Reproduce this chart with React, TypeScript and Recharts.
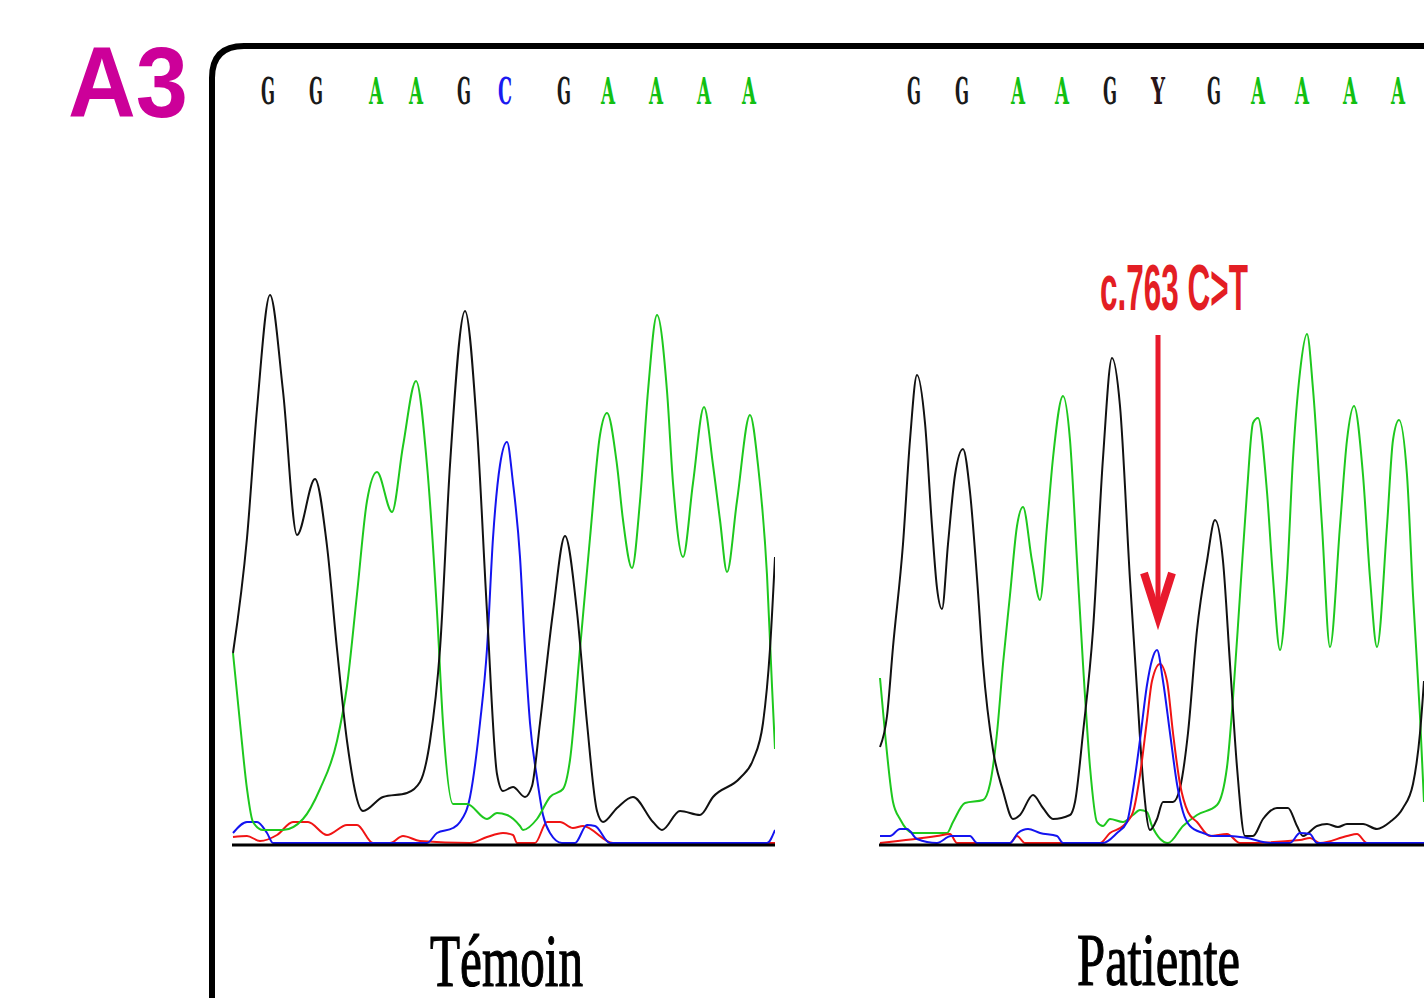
import React from 'react';
import { LineChart, Line, XAxis, YAxis, ReferenceLine, ReferenceDot } from 'recharts';

// ---------- sequence calls (scan position of each base call) ----------
const controlBases = ['G', 'G', 'A', 'A', 'G', 'C', 'G', 'A', 'A', 'A', 'A'];
const controlBaseScans = [36, 84, 144, 184, 232, 273, 332, 376, 424, 472, 517];
const patientBases = ['G', 'G', 'A', 'A', 'G', 'Y', 'G', 'A', 'A', 'A', 'A'];
const patientBaseScans = [35, 83, 139, 183, 231, 279, 335, 379, 423, 471, 519];
const baseCallLevel = 741;

// ---------- control (Témoin) traces: [scan, intensity] ----------
const controlG = [
  [1, 192], [15, 307], [25, 436], [38, 550], [51, 454], [65, 310], [83, 366], [95, 299], [105, 196],
  [115, 104], [131, 34], [151, 48], [175, 52], [188, 63], [198, 104], [208, 196], [218, 380], [233, 534],
  [245, 417], [255, 233], [265, 71], [271, 54], [281, 58], [293, 48], [300, 59], [308, 122], [321, 233],
  [333, 309], [345, 233], [355, 122], [365, 34], [371, 23], [385, 37], [401, 48], [421, 23], [430, 15],
  [448, 34], [468, 30], [481, 48], [508, 67], [521, 85], [531, 122], [538, 196], [543, 288],
];
const controlA = [
  [1, 192], [8, 122], [15, 56], [21, 23], [31, 15], [51, 15], [71, 26], [88, 56], [105, 104], [115, 159],
  [125, 251], [135, 344], [145, 373], [160, 333], [171, 399], [184, 464], [195, 380], [205, 233], [211, 122],
  [221, 41], [235, 41], [255, 26], [265, 32], [275, 30], [288, 19], [291, 15], [305, 26], [318, 48],
  [331, 56], [338, 85], [348, 196], [358, 307], [368, 410], [375, 432], [385, 380], [391, 325], [400, 277],
  [408, 344], [416, 454], [425, 530], [435, 454], [441, 362], [451, 288], [461, 362], [472, 438], [481, 380],
  [488, 325], [495, 273], [505, 344], [518, 430], [526, 380], [535, 270], [540, 159], [543, 96],
];
const controlC = [
  [1, 12], [15, 23], [25, 23], [35, 12], [41, 2], [195, 2], [205, 12], [221, 17], [228, 23], [238, 48],
  [248, 122], [255, 196], [261, 307], [268, 380], [275, 403], [281, 362], [288, 288], [293, 196], [298, 122],
  [305, 67], [311, 30], [318, 12], [330, 2], [343, 2], [355, 20], [363, 19], [378, 2], [535, 2], [543, 15],
];
const controlT = [
  [1, 8], [15, 9], [28, 4], [45, 10], [61, 23], [76, 23], [95, 10], [115, 20], [125, 20], [141, 2],
  [158, 2], [171, 9], [188, 4], [238, 2], [255, 8], [271, 12], [281, 10], [285, 2], [303, 2], [315, 23],
  [328, 23], [341, 17], [351, 19], [381, 2], [543, 2],
];

// ---------- patient (Patiente) traces: [scan, intensity] ----------
const patientG = [
  [1, 98], [8, 129], [14, 198], [24, 301], [31, 405], [38, 470], [46, 422], [53, 319], [58, 257], [63, 236],
  [69, 301], [76, 370], [84, 396], [91, 353], [98, 267], [104, 181], [114, 95], [124, 54], [134, 26],
  [141, 30], [154, 50], [164, 37], [174, 26], [191, 30], [196, 43], [204, 112], [214, 215], [224, 387],
  [233, 487], [241, 439], [251, 265], [258, 155], [264, 65], [271, 15], [278, 26], [284, 43], [294, 43],
  [301, 57], [309, 112], [318, 215], [328, 284], [336, 325], [344, 284], [351, 181], [358, 78], [366, 9],
  [374, 9], [384, 26], [398, 37], [409, 37], [418, 19], [424, 9], [438, 19], [448, 21], [459, 18], [468, 21],
  [484, 21], [498, 16], [511, 23], [524, 37], [534, 61], [541, 112], [545, 164],
];
const patientA = [
  [1, 167], [6, 112], [14, 43], [21, 26], [34, 12], [68, 12], [74, 23], [86, 42], [104, 45], [111, 61],
  [118, 112], [124, 181], [131, 250], [138, 319], [144, 338], [153, 284], [161, 245], [168, 319], [174, 387],
  [184, 449], [191, 405], [198, 284], [204, 181], [211, 78], [218, 23], [224, 19], [231, 26], [244, 23],
  [254, 30], [261, 35], [268, 33], [273, 19], [289, 2], [304, 19], [318, 30], [338, 40], [348, 78],
  [354, 147], [361, 250], [368, 353], [374, 422], [379, 427], [388, 353], [394, 267], [401, 195], [408, 267],
  [414, 387], [421, 473], [428, 511], [434, 456], [443, 319], [451, 198], [461, 319], [468, 405], [475, 439],
  [484, 370], [491, 267], [498, 198], [508, 319], [514, 405], [520, 425], [528, 370], [534, 250], [541, 129],
  [545, 43],
];
const patientC = [
  [1, 9], [11, 9], [21, 16], [28, 16], [38, 6], [58, 2], [72, 9], [91, 9], [98, 2], [131, 2], [139, 12],
  [149, 16], [161, 12], [178, 9], [184, 2], [224, 2], [238, 12], [248, 23], [254, 55], [261, 105], [268, 160],
  [273, 185], [278, 195], [284, 164], [291, 112], [298, 61], [304, 33], [311, 19], [324, 12], [334, 9],
  [351, 9], [368, 7], [391, 2], [411, 2], [421, 12], [431, 11], [438, 2], [545, 2],
];
const patientT = [
  [1, 2], [58, 9], [71, 11], [78, 2], [131, 2], [138, 9], [146, 2], [221, 2], [231, 12], [244, 19],
  [254, 33], [261, 70], [268, 125], [273, 164], [281, 181], [288, 164], [294, 112], [301, 61], [309, 33],
  [318, 23], [331, 9], [348, 11], [361, 2], [421, 5], [431, 7], [441, 2], [468, 9], [478, 11], [488, 2],
  [545, 2],
];

const mutationLabel = 'c.763 C>T';
const mutationScan = 279;
const arrowTipIntensity = 222;

const COLORS: Record<string, string> = {
  G: '#111111',
  A: '#1ec81e',
  C: '#1414f0',
  T: '#f01414',
};
const BASE_TEXT: Record<string, string> = {
  G: '#1a1a1a',
  A: '#12c012',
  C: '#1a1af0',
  Y: '#2a1418',
};

const toPts = (arr: number[][]) => arr.map(([s, v]) => ({ s, v }));

const PLOT_H = 798;

type PanelProps = {
  width: number;
  domainMax: number;
  bases: string[];
  scans: number[];
  traces: { key: string; data: number[][] }[];
  annotate?: boolean;
};

function Panel({ width, domainMax, bases, scans, traces, annotate }: PanelProps) {
  const baseShape = (b: string) => (p: any) => (
    <text
      x={p.cx}
      y={p.cy}
      textAnchor="middle"
      fontFamily="DejaVu Serif, serif"
      fontWeight="bold"
      fontSize={37}
      textLength={14}
      lengthAdjust="spacingAndGlyphs"
      fill={BASE_TEXT[b] || '#000'}
    >
      {b}
    </text>
  );

  const arrowShape = (p: any) => {
    const cx = p.cx;
    const cy = p.cy;
    return (
      <g>
        <line x1={cx} y1={cy - 288} x2={cx} y2={cy - 12} stroke="#e8192c" strokeWidth={5} />
        <polyline
          points={`${cx - 14},${cy - 50} ${cx},${cy - 6} ${cx + 14},${cy - 50}`}
          fill="none"
          stroke="#e8192c"
          strokeWidth={8}
          strokeLinejoin="miter"
        />
        <text
          x={cx - 58}
          y={cy - 313}
          fontFamily="Liberation Sans, Arial, sans-serif"
          fontWeight="bold"
          fontSize={64}
          textLength={148}
          lengthAdjust="spacingAndGlyphs"
          fill="#e31e24"
        >
          {mutationLabel}
        </text>
      </g>
    );
  };

  return (
    <LineChart width={width} height={PLOT_H + 2} margin={{ top: 0, right: 0, bottom: 2, left: 0 }}>
      <XAxis dataKey="s" type="number" domain={[0, domainMax]} allowDataOverflow hide />
      <YAxis hide type="number" domain={[0, PLOT_H]} allowDataOverflow />
      {traces.map((t) => (
        <Line
          key={t.key}
          data={toPts(t.data)}
          dataKey="v"
          type="monotone"
          stroke={COLORS[t.key]}
          strokeWidth={2}
          dot={false}
          activeDot={false}
          isAnimationActive={false}
        />
      ))}
      <ReferenceLine y={0} stroke="#000" strokeWidth={3} ifOverflow="visible" />
      {scans.map((s, i) => (
        <ReferenceDot
          key={`b${i}`}
          x={s}
          y={baseCallLevel}
          r={0}
          ifOverflow="visible"
          shape={baseShape(bases[i])}
        />
      ))}
      {annotate && (
        <ReferenceDot
          x={mutationScan}
          y={arrowTipIntensity}
          r={0}
          ifOverflow="visible"
          shape={arrowShape}
        />
      )}
    </LineChart>
  );
}

export default function App() {
  return (
    <div
      style={{
        position: 'fixed',
        left: 0,
        top: 0,
        width: 1424,
        height: 998,
        overflow: 'hidden',
        background: '#fff',
      }}
    >
      <svg width={1424} height={998} style={{ position: 'absolute', left: 0, top: 0 }}>
        <path d="M 212 1000 L 212 78 Q 212 46 244 46 L 1430 46" fill="none" stroke="#000" strokeWidth={6} />
        <text
          x={68}
          y={117}
          fontFamily="Liberation Sans, Arial, sans-serif"
          fontWeight="bold"
          fontSize={100}
          textLength={120}
          lengthAdjust="spacingAndGlyphs"
          fill="#cc0099"
        >
          A3
        </text>
        <text
          x={430}
          y={986}
          fontFamily="Liberation Serif, Times New Roman, serif"
          fontSize={73}
          textLength={153}
          lengthAdjust="spacingAndGlyphs"
          fill="#000"
          stroke="#000"
          strokeWidth={1.2}
        >
          Témoin
        </text>
        <text
          x={1077}
          y={985}
          fontFamily="Liberation Serif, Times New Roman, serif"
          fontSize={73}
          textLength={163}
          lengthAdjust="spacingAndGlyphs"
          fill="#000"
          stroke="#000"
          strokeWidth={1.2}
        >
          Patiente
        </text>
      </svg>
      <div style={{ position: 'absolute', left: 232, top: 47 }}>
        <Panel
          width={543}
          domainMax={543}
          bases={controlBases}
          scans={controlBaseScans}
          traces={[
            { key: 'T', data: controlT },
            { key: 'C', data: controlC },
            { key: 'A', data: controlA },
            { key: 'G', data: controlG },
          ]}
        />
      </div>
      <div style={{ position: 'absolute', left: 879, top: 47 }}>
        <Panel
          width={545}
          domainMax={545}
          bases={patientBases}
          scans={patientBaseScans}
          annotate
          traces={[
            { key: 'A', data: patientA },
            { key: 'G', data: patientG },
            { key: 'T', data: patientT },
            { key: 'C', data: patientC },
          ]}
        />
      </div>
    </div>
  );
}
